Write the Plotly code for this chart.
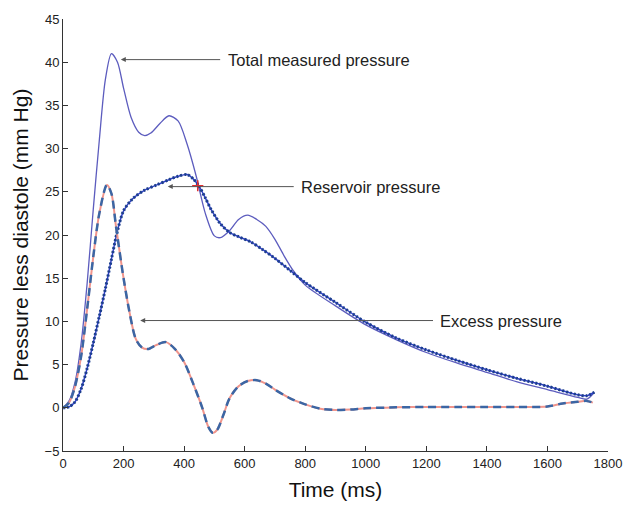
import plotly.graph_objects as go

# ---- data ----
time_total = [0, 20, 40, 60, 80, 100, 120, 140, 160, 180, 200, 225, 250, 270, 290, 320, 350, 380, 410,
              440, 470, 500, 520, 550, 580, 610, 640, 670, 700, 730, 760, 800, 900, 1000, 1100, 1200,
              1300, 1400, 1500, 1600, 1700, 1730, 1750]
total_pressure = [0, 0.8, 3, 7.5, 14.5, 23, 31, 38, 41, 40, 37, 33.6, 31.9, 31.5, 31.8, 32.9, 33.8, 33.2,
                  30.5, 26.8, 22.5, 19.9, 19.7, 20.5, 21.8, 22.3, 21.8, 21.0, 19.5, 17.6, 15.9, 14.2,
                  11.8, 9.6, 7.9, 6.4, 5.2, 4.1, 3.0, 2.1, 1.2, 1.0, 1.6]

time_reservoir = [0, 20, 40, 60, 80, 100, 120, 140, 160, 180, 200, 230, 270, 310, 350, 380, 410, 430,
                  450, 470, 490, 520, 550, 580, 620, 660, 700, 750, 800, 900, 1000, 1100, 1200, 1300,
                  1400, 1500, 1600, 1700, 1730, 1755]
reservoir_pressure = [0, 0.1, 0.7, 2.2, 4.6, 7.5, 10.6, 13.8, 17.2, 20.5, 22.8, 24.2, 25.2, 25.8, 26.4,
                      26.8, 27.0, 26.5, 25.6, 24.3, 22.9, 21.3, 20.3, 19.8, 19.2, 18.3, 17.3, 15.9,
                      14.5, 12.2, 9.9, 8.1, 6.7, 5.5, 4.4, 3.4, 2.5, 1.5, 1.4, 1.8]

time_excess = [0, 20, 40, 60, 80, 100, 120, 145, 160, 175, 200, 220, 240, 260, 280, 310, 340, 370, 400,
               430, 460, 480, 495, 510, 530, 550, 580, 610, 640, 670, 700, 750, 800, 850, 900, 950,
               1000, 1100, 1200, 1300, 1400, 1500, 1600, 1650, 1700, 1730, 1750]
excess_pressure = [0, 0.6, 2.5, 6, 11.5, 17.5, 22.5, 25.8, 24.8, 21, 15, 11, 8, 7, 6.8, 7.3, 7.6, 6.8,
                   5.3, 2.8, 0, -2.2, -2.9, -2.5, -0.8, 1.1, 2.5, 3.1, 3.2, 2.8, 2.1, 1.1, 0.4, -0.1,
                   -0.25, -0.2, -0.05, 0.05, 0.1, 0.1, 0.1, 0.1, 0.15, 0.5, 0.7, 0.8, 0.6]

marker_time = [445]
marker_pressure = [25.7]

labels = ["Total measured pressure", "Reservoir pressure", "Excess pressure"]
label_heads = [(191, 40.3), (346, 25.6), (255, 10.1)]
label_tails = [(524, 40.3), (767, 25.6), (1227, 10.1)]
label_pos = [(539, 40.3), (780, 25.6), (1240, 10.1)]

FONT = "Arial, Liberation Sans, sans-serif"

fig = go.Figure()

# total measured pressure
fig.add_trace(go.Scatter(x=time_total, y=total_pressure, mode="lines",
                         line=dict(color="#5c5cbe", width=1.3, shape="spline", smoothing=0.8)))
# reservoir pressure (solid under dotted)
fig.add_trace(go.Scatter(x=time_reservoir, y=reservoir_pressure, mode="lines",
                         line=dict(color="#3040c8", width=1.5, shape="spline", smoothing=0.8)))
fig.add_trace(go.Scatter(x=time_reservoir, y=reservoir_pressure, mode="lines",
                         line=dict(color="#1d3f8c", width=3, dash="2px,2px", shape="spline", smoothing=0.8)))
# excess pressure (salmon solid under dashed)
fig.add_trace(go.Scatter(x=time_excess, y=excess_pressure, mode="lines",
                         line=dict(color="#f0958c", width=2, shape="spline", smoothing=0.8)))
fig.add_trace(go.Scatter(x=time_excess, y=excess_pressure, mode="lines",
                         line=dict(color="#3b66a4", width=2.5, dash="8px,5px", shape="spline", smoothing=0.8)))
# red cross marker
fig.add_trace(go.Scatter(x=marker_time, y=marker_pressure, mode="markers",
                         marker=dict(symbol="cross-thin", size=8, line=dict(color="#e03030", width=1.5))))

for text, (hx, hy), (tx, ty), (px, py) in zip(labels, label_heads, label_tails, label_pos):
    fig.add_annotation(x=hx, y=hy, ax=tx, ay=ty, axref="x", ayref="y", xref="x", yref="y",
                       text="", showarrow=True, arrowhead=2, arrowsize=1, arrowwidth=1,
                       arrowcolor="#555555")
    fig.add_annotation(x=px, y=py, xref="x", yref="y", text=text, showarrow=False,
                       xanchor="left", yanchor="middle",
                       font=dict(family=FONT, size=16.5, color="#222222"))

axis_common = dict(showline=True, linecolor="#333333", linewidth=1, ticks="inside", ticklen=5,
                   tickcolor="#333333", showgrid=False, zeroline=False, mirror=False,
                   tickfont=dict(family=FONT, size=13, color="#222222"))

fig.update_layout(
    width=634, height=509,
    margin=dict(l=63, r=15, t=18, b=54),
    plot_bgcolor="white", paper_bgcolor="white",
    showlegend=False,
    xaxis=dict(range=[0, 1800], dtick=200, tick0=0,
               title=dict(text="Time (ms)", font=dict(family=FONT, size=21, color="#111111"), standoff=12),
               **axis_common),
    yaxis=dict(range=[-5, 45], dtick=5, tick0=0,
               title=dict(text="Pressure less diastole (mm Hg)", font=dict(family=FONT, size=21, color="#111111"),
                          standoff=10),
               **axis_common),
)

fig.write_html("out.html")
